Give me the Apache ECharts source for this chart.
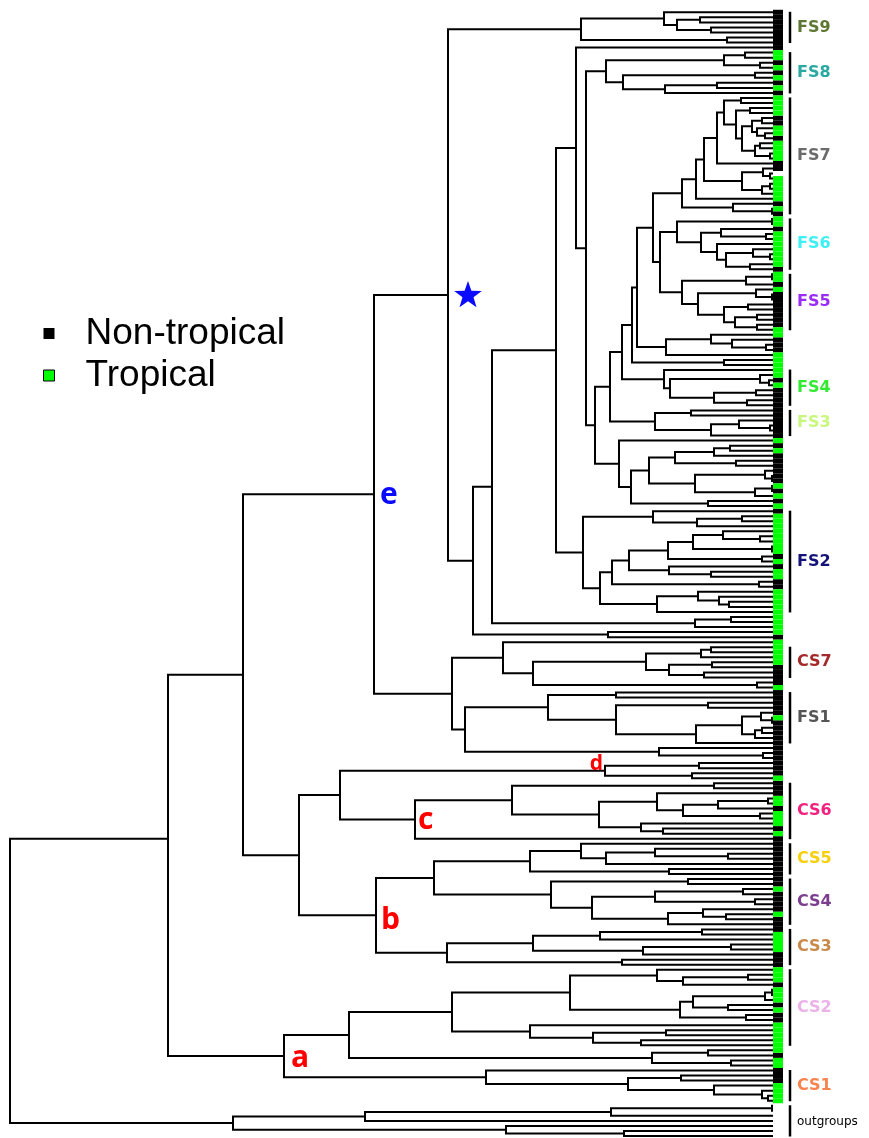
<!DOCTYPE html>
<html>
<head>
<meta charset="utf-8">
<script src="https://cdn.jsdelivr.net/npm/echarts@6/dist/echarts.min.js"></script>
<style>
html, body { margin: 0; background: #fff; }
#chart { width: 869px; height: 1138px; }
</style>
</head>
<body>
<div id="chart"></div>
<script>
// tree clades, newick-like: leaf = tip state (n non-tropical, t tropical, w no data, o outgroup)
// ")123" = node depth from the root, "@f" = where the parent joins (share of the node's span), "#x" = node tag
var fs9 = '((n,((n,n)690,(n,n)701)667)654,(n,n)717)571';
var fs8 = '(((t,t)735,(n,t)750)714,((n,t)745,((n,t)707,n)655)613)596';
var fs7 = '((((((t,t)731,((t,t)740,(((n,n)752,(t,(t,n)755)747)742,((t,t)750,(t,t)760)745)732)726)714,n)707,((n,(w,t)760)753,((t,t)760,t)752)732)694,t)686,(n,(t,n)762)723)672';
var fs6 = '((t,t)762,((n,(t,t)756)711,(t,((t,(t,t)760)743,(t,n)740)716)707)691)667';
var fs5 = '(((t,t)762,n)736,((t,(n,n)762)746,((n,n)738,((n,n)747,(n,t)747)725)714)688)672';
var fs4 = '(t,((t,(n,t)759)750,((n,n)746,(n,n)737)704)660)654';
var fs3 = '((n,n)681,((n,(n,n)760)729,n)701)645';
var fs2 = '((n,((t,t)732,t)687)643,((((((t,(t,t)750)713,(t,t)762)683,(n,t)752)658,(n,(t,t)701)659)619,(n,n)749)602,((t,(t,(t,t)719)709)688,t)647)590)573';
var cs7 = '(((t,t)701,t)691,((t,n)702,(n,n)694)659)636';
var fs1 = '((n,n)606,((n,n)698,(((n,(t,n)762)751,((n,n)752,n)745)732,n)686)606)538';
var cs6 = '((n,n)704,((n,(((t,t)758,n)708,(t,t)750)673)647,(t,(n,t)653)631)589)502';
var cs5 = '((n,((n,(n,n)718)645,n)596)571,(n,n)659)520';
var cs4 = '((n,n)678,(((t,n)733,(n,n)745)645,((n,(t,n)716)693,n)658)582)541';
var cs3 = '((((n,t)692,t)590,((t,t)721,n)633)523,(n,n)612)437';
var cs2 = '(((t,((t,t)738,n)673)647,((((t,t)762,t)755,(n,t)718)683,(n,n)736)670)560,(t,((t,t)656,(t,t)631)583)520)442';
var cs1 = '(n,((n,n)671,(t,(t,(t,t)758)752)704)618)476';
var outgroups = '((((o,o)762,o)601,o)355,(o,(o,o)614)496)223';

var n653 = '(' + fs7 + ',(' + fs6 + ',' + fs5 + ')650)643';
var n637 = '(' + n653 + ',((t,(n,(n,n)756)722)701,t)656)627';
var n622 = '((' + n637 + ',(t,t)714)622,' + fs4 + ')612';
var n610 = '(' + n622 + ',' + fs3 + ')600';
var n619 = '(t,(((((n,t)720,n)704,(n,n)726)665,((n,(n,n)762)755,((t,n)762,t)745)685)639,(n,t)698)621)609';
var n586 = '(' + fs8 + ',(' + n610 + ',' + n619 + ')585)576';
var n556 = '((n,' + n586 + ')566,' + fs2 + ')546';
var n473 = '((' + n556 + ',((t,t)721,t)685)482,(t,n)598)463';
var star = '(' + fs9 + ',' + n473 + ')438#star';
var n452 = '((t,(' + cs7 + ',(n,t)747)523)493,(' + fs1 + ',(n,(n,n)753)649)455)442';
var e = '(' + star + ',' + n452 + ')364#e';
var d = '((n,n)689,(n,t)682)595#d';
var c = '(' + cs6 + ',n)405#c';
var b = '((' + cs5 + ',' + cs4 + ')424,' + cs3 + ')366#b';
var a = '((' + cs2 + ',((t,n)698,(t,t)721)642)339,' + cs1 + ')274#a';
var tree = '(((' + e + ',((' + d + ',' + c + ')330,' + b + ')289)233,' + a + ')158@0.43,' + outgroups + ')0';

// clade bars: name, first leaf, last leaf, colour
var cladeNames = ['FS9', 'FS8', 'FS7', 'FS6', 'FS5', 'FS4', 'FS3', 'FS2', 'CS7', 'FS1', 'CS6', 'CS5', 'CS4', 'CS3', 'CS2', 'CS1', 'outgroups'];
var cladeFirst = [0, 8, 17, 41, 52, 71, 79, 99, 126, 135, 153, 165, 172, 182, 190, 210, 217];
var cladeLast = [6, 16, 40, 51, 63, 78, 84, 119, 132, 145, 164, 171, 181, 189, 205, 216, 223];
var cladeColors = ['#5e7732', '#2aa9a2', '#6b6b6b', '#3ef0f4', '#9a2cf6', '#33ea33', '#c9f77e', '#13137a', '#a3292b',
  '#555555', '#f2207e', '#f7cf0a', '#7c3f90', '#c98a49', '#ebb2ea', '#f7844f', '#000000'];

var nodeTags = ['e', 'a', 'b', 'c', 'd'];
var nodeTagColors = ['#0a0aff', '#ff0000', '#ff0000', '#ff0000', '#ff0000'];

var TIP = 763;

function parseTree(s) {
  var pos = 0, leaves = [], nodes = [];
  function readNode() {
    var nd;
    if (s[pos] === '(') {
      pos++;
      var kids = [readNode()];
      while (s[pos] === ',') { pos++; kids.push(readNode()); }
      pos++;
      var m = /^[\d.]+/.exec(s.slice(pos));
      pos += m[0].length;
      nd = { kids: kids, depth: +m[0] };
      var frac = 0.5;
      if (s[pos] === '@') {
        var f = /^@([\d.]+)/.exec(s.slice(pos));
        frac = +f[1];
        pos += f[0].length;
      }
      if (s[pos] === '#') {
        var t = /^#(\w+)/.exec(s.slice(pos));
        nd.tag = t[1];
        pos += t[0].length;
      }
      var y0 = kids[0].y, y1 = kids[kids.length - 1].y;
      nd.y = y0 + (y1 - y0) * frac;
      nodes.push(nd);
    } else {
      nd = { state: s[pos], depth: TIP, y: leaves.length };
      leaves.push(nd);
      pos++;
    }
    return nd;
  }
  readNode();
  return { leaves: leaves, nodes: nodes };
}

var parsed = parseTree(tree);
var leaves = parsed.leaves;
var nodes = parsed.nodes;

var edgeData = nodes.map(function (nd) {
  var k0 = nd.kids[0], k1 = nd.kids[nd.kids.length - 1];
  return [nd.depth, k0.y, k1.y, k0.depth, k1.depth];
});

function tipIndexes(state) {
  var out = [];
  leaves.forEach(function (l, i) { if (l.state === state) out.push([i]); });
  return out;
}

var tagged = nodes.filter(function (nd) { return nd.tag; });
var starNode = tagged.filter(function (nd) { return nd.tag === 'star'; })[0];
var labelNodes = nodeTags.map(function (t) {
  return tagged.filter(function (nd) { return nd.tag === t; })[0];
});
// label placement relative to its node, in px
var tagStyle = {
  e: { dx: 6, dy: 1, size: 30, align: 'left' },
  a: { dx: 7, dy: 2, size: 30, align: 'left' },
  b: { dx: 5, dy: 5, size: 30, align: 'left' },
  c: { dx: 3, dy: 1, size: 30, align: 'left' },
  d: { dx: -2, dy: -7, size: 21, align: 'right' }
};

var chart = echarts.init(document.getElementById('chart'));

function tipRect(params, api) {
  var i = api.value(0);
  var p0 = api.coord([TIP, i - 0.5]);
  var p1 = api.coord([TIP + 10, i + 0.5]);
  return {
    type: 'rect',
    shape: { x: p0[0], y: p0[1], width: p1[0] - p0[0], height: p1[1] - p0[1] },
    style: { fill: api.visual('color') }
  };
}

chart.setOption({
  animation: false,
  backgroundColor: '#fff',
  grid: { left: 10, right: 0, top: 12.3, bottom: 2 },
  xAxis: { type: 'value', min: 0, max: 859, show: false },
  yAxis: { type: 'value', min: 0, max: leaves.length - 1, inverse: true, show: false },
  legend: {
    orient: 'vertical',
    left: 38,
    top: 310,
    itemWidth: 11,
    itemHeight: 11,
    itemGap: 5,
    selectedMode: false,
    textStyle: { fontSize: 37, fontFamily: 'Liberation Sans', color: '#000', padding: [0, 0, 0, 26] },
    data: [
      { name: 'Non-tropical', icon: 'rect', itemStyle: { color: '#000' } },
      { name: 'Tropical', icon: 'rect', itemStyle: { color: '#00ff00', borderColor: '#000', borderWidth: 1 } }
    ]
  },
  series: [
    {
      type: 'custom',
      name: 'branches',
      clip: false,
      data: edgeData,
      renderItem: function (params, api) {
        var pts = [
          api.coord([api.value(3), api.value(1)]),
          api.coord([api.value(0), api.value(1)]),
          api.coord([api.value(0), api.value(2)]),
          api.coord([api.value(4), api.value(2)])
        ];
        return { type: 'polyline', shape: { points: pts }, style: { stroke: '#000', lineWidth: 2, fill: null } };
      }
    },
    {
      type: 'custom',
      name: 'Non-tropical',
      itemStyle: { color: '#000' },
      data: tipIndexes('n'),
      renderItem: tipRect
    },
    {
      type: 'custom',
      name: 'Tropical',
      itemStyle: { color: '#00ff00' },
      data: tipIndexes('t'),
      renderItem: tipRect
    },
    {
      type: 'custom',
      name: 'clades',
      clip: false,
      data: cladeNames.map(function (n, i) { return [cladeFirst[i], cladeLast[i]]; }),
      renderItem: function (params, api) {
        var i = params.dataIndex;
        var top = api.coord([TIP + 17, api.value(0)]);
        var bot = api.coord([TIP + 17, api.value(1)]);
        var isOut = cladeNames[i] === 'outgroups';
        return {
          type: 'group',
          children: [
            { type: 'line', shape: { x1: top[0], y1: top[1] - 0.5, x2: bot[0], y2: bot[1] + 0.5 }, style: { stroke: '#000', lineWidth: 2.5 } },
            {
              type: 'text',
              style: {
                text: cladeNames[i], x: top[0] + 7, y: (top[1] + bot[1]) / 2 + (isOut ? 1 : 0),
                fill: cladeColors[i], fontFamily: 'DejaVu Sans', fontWeight: isOut ? 'normal' : 'bold',
                fontSize: isOut ? 12 : 16, align: 'left', verticalAlign: 'middle'
              }
            }
          ]
        };
      }
    },
    {
      type: 'custom',
      name: 'tags',
      clip: false,
      data: labelNodes.map(function (nd) { return [nd.depth, nd.y]; }),
      renderItem: function (params, api) {
        var t = nodeTags[params.dataIndex];
        var st = tagStyle[t];
        var p = api.coord([api.value(0), api.value(1)]);
        return {
          type: 'text',
          style: {
            text: t, x: p[0] + st.dx, y: p[1] + st.dy, fill: nodeTagColors[params.dataIndex],
            fontFamily: 'Open Sans', fontWeight: 'bold', fontSize: st.size, align: st.align, verticalAlign: 'middle'
          }
        };
      }
    },
    {
      type: 'custom',
      name: 'star',
      clip: false,
      data: [[starNode.depth, starNode.y]],
      renderItem: function (params, api) {
        var p = api.coord([api.value(0), api.value(1)]);
        var cx = p[0] + 20, cy = p[1] + 0.5, pts = [];
        for (var k = 0; k < 10; k++) {
          var r = k % 2 ? 5.8 : 14.5;
          var ang = -Math.PI / 2 + k * Math.PI / 5;
          pts.push([cx + r * Math.cos(ang), cy + r * Math.sin(ang)]);
        }
        return { type: 'polygon', shape: { points: pts }, style: { fill: '#0a0aff' } };
      }
    }
  ]
});
</script>
</body>
</html>
